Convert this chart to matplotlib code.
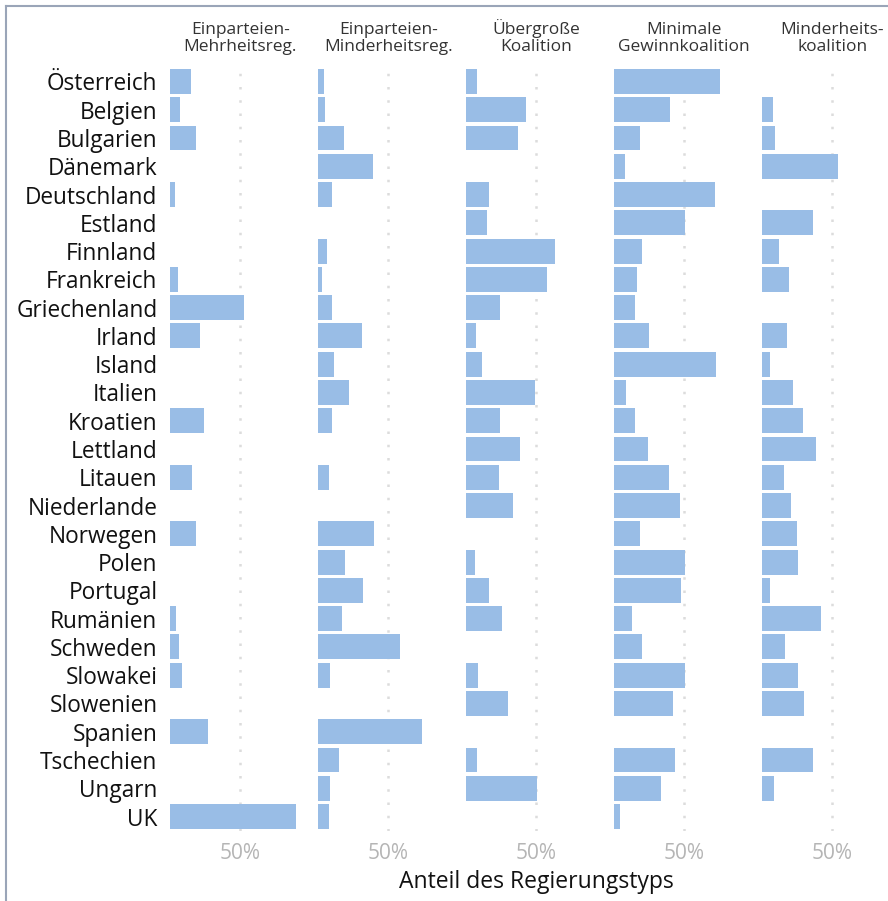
import numpy as np
import matplotlib
matplotlib.use("Agg")
import matplotlib.pyplot as plt

plt.rcParams['font.family'] = ['Open Sans', 'DejaVu Sans']

# share of each government type per country (0..1)
countries = ["Österreich", "Belgien", "Bulgarien", "Dänemark", "Deutschland", "Estland",
             "Finnland", "Frankreich", "Griechenland", "Irland", "Island", "Italien",
             "Kroatien", "Lettland", "Litauen", "Niederlande", "Norwegen", "Polen",
             "Portugal", "Rumänien", "Schweden", "Slowakei", "Slowenien", "Spanien",
             "Tschechien", "Ungarn", "UK"]

types = ["Einparteien-\nMehrheitsreg.", "Einparteien-\nMinderheitsreg.",
         "Übergroße\nKoalition", "Minimale\nGewinnkoalition", "Minderheits-\nkoalition"]

einp_mehr = [0.15, 0.07, 0.185, 0.0, 0.035, 0.0, 0.0, 0.057, 0.526, 0.21, 0.0, 0.0,
             0.24, 0.0, 0.156, 0.0, 0.185, 0.0, 0.0, 0.043, 0.065, 0.085, 0.0, 0.27,
             0.0, 0.0, 0.896]
einp_minder = [0.043, 0.05, 0.185, 0.39, 0.10, 0.0, 0.064, 0.028, 0.10, 0.313, 0.114, 0.22,
               0.10, 0.0, 0.078, 0.0, 0.398, 0.192, 0.32, 0.17, 0.583, 0.085, 0.0, 0.74,
               0.15, 0.085, 0.078]
uebergross = [0.078, 0.427, 0.37, 0.0, 0.164, 0.15, 0.633, 0.576, 0.242, 0.071, 0.114, 0.49,
              0.242, 0.384, 0.235, 0.334, 0.0, 0.064, 0.164, 0.256, 0.0, 0.085, 0.30, 0.0,
              0.078, 0.505, 0.0]
min_gewinn = [0.754, 0.398, 0.185, 0.078, 0.718, 0.505, 0.199, 0.164, 0.15, 0.249, 0.725, 0.085,
              0.15, 0.242, 0.391, 0.47, 0.185, 0.505, 0.477, 0.128, 0.199, 0.505, 0.42, 0.0,
              0.434, 0.334, 0.043]
minder_koal = [0.0, 0.075, 0.095, 0.54, 0.0, 0.363, 0.12, 0.192, 0.0, 0.178, 0.06, 0.22,
               0.292, 0.384, 0.156, 0.206, 0.249, 0.256, 0.057, 0.42, 0.164, 0.256, 0.299, 0.0,
               0.363, 0.085, 0.0]

series = [einp_mehr, einp_minder, uebergross, min_gewinn, minder_koal]

W, H = 888, 901
fig = plt.figure(figsize=(W / 100, H / 100), dpi=100)

# frame lines (left + top) like the original
fig.add_artist(plt.Line2D([6 / W, 6 / W], [0, 1 - 6 / H], color="#9aa5b8", lw=1.5))
fig.add_artist(plt.Line2D([6 / W, 1], [1 - 6 / H, 1 - 6 / H], color="#9aa5b8", lw=1.5))

n = len(countries)
top_px, bot_px = 67.3, 830.7
left0, step, width = 170, 148, 140.6
bar_color = "#99bde6"

y = np.arange(n)
for k, (name, vals) in enumerate(zip(types, series)):
    ax = fig.add_axes([(left0 + step * k) / W, 1 - bot_px / H, width / W, (bot_px - top_px) / H])
    ax.barh(y, vals, height=0.88, color=bar_color, zorder=2)
    ax.axvline(0.5, color="#dcdcdc", lw=1.8, dashes=(1, 4.3), zorder=1)
    ax.set_xlim(0, 1)
    ax.set_ylim(n - 0.5, -0.5)
    ax.set_xticks([0.5])
    ax.set_xticklabels(["50%"])
    ax.tick_params(axis="x", length=0, pad=9, labelsize=15, labelcolor="#b5b5b5")
    if k == 0:
        ax.set_yticks(y)
        ax.set_yticklabels(countries)
        ax.tick_params(axis="y", length=0, pad=9, labelsize=16.3, labelcolor="#111111")
    else:
        ax.set_yticks([])
    for s in ax.spines.values():
        s.set_visible(False)
    ax.patch.set_alpha(0)
    ax.set_title(name, fontsize=12.5, color="#333333", pad=12, linespacing=1.05)

fig.text(536 / W, 1 - 882 / H, "Anteil des Regierungstyps", ha="center", va="center",
         fontsize=16.5, color="#111111")

fig.savefig("out.png", dpi=100)
